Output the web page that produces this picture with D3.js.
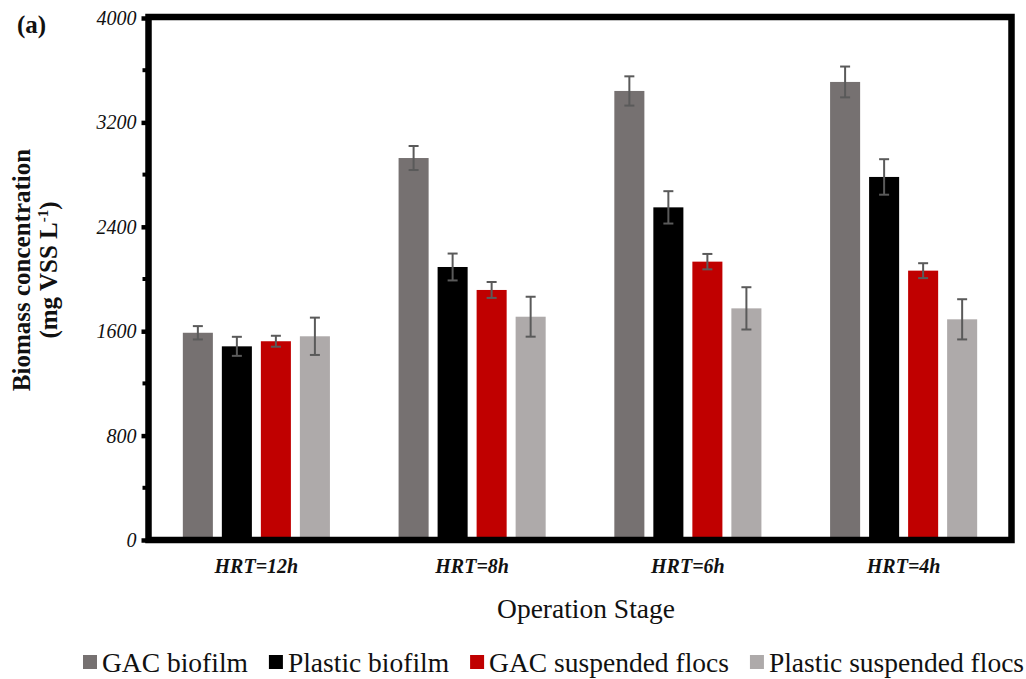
<!DOCTYPE html>
<html>
<head>
<meta charset="utf-8">
<script src="https://cdn.jsdelivr.net/npm/d3@7"></script>
<style>
  body { margin: 0; background: #fff; }
  svg { display: block; }
  text { font-family: "Liberation Serif", "Times New Roman", serif; fill: #111; }
</style>
</head>
<body>
<svg id="chart" width="1026" height="679"></svg>
<script>
// ── Data ──────────────────────────────────────────────────────────────────────
const stages = ["HRT=12h", "HRT=8h", "HRT=6h", "HRT=4h"];
const series = ["GAC biofilm", "Plastic biofilm", "GAC suspended flocs", "Plastic suspended flocs"];
const colors = ["#767171", "#000000", "#c00000", "#aeaaaa"];

const gacBiofilm     = [1588, 2927, 3441, 3510];
const plasticBiofilm = [1484, 2092, 2549, 2782];
const gacFlocs       = [1523, 1916, 2133, 2064];
const plasticFlocs   = [1561, 1711, 1775, 1691];

const gacBiofilmErr     = [51, 92, 112, 118];
const plasticBiofilmErr = [73, 103, 124, 136];
const gacFlocsErr       = [42, 61, 59, 57];
const plasticFlocsErr   = [143, 153, 162, 154];

const yTicks = [0, 800, 1600, 2400, 3200, 4000];
const yMinorTicks = [400, 1200, 2000, 2800, 3600];

const values = [gacBiofilm, plasticBiofilm, gacFlocs, plasticFlocs];
const errors = [gacBiofilmErr, plasticBiofilmErr, gacFlocsErr, plasticFlocsErr];

// ── Layout ────────────────────────────────────────────────────────────────────
const svg = d3.select("#chart");
const plotL = 148.5, plotR = 1011.5, plotT = 17, plotB = 540;

const x0 = d3.scaleBand().domain(stages).range([plotL, plotR]).padding(0);
const x1 = d3.scaleBand().domain(series).range([0, x0.bandwidth()])
  .paddingInner(0.23).paddingOuter(0.88);
const y = d3.scaleLinear().domain([0, 4000]).range([plotB, plotT + 1]);

const rows = [];
stages.forEach((s, i) => {
  series.forEach((k, j) => {
    rows.push({ stage: s, key: k, color: colors[j], v: values[j][i], e: errors[j][i] });
  });
});

// Bars
svg.append("g").selectAll("rect")
  .data(rows)
  .join("rect")
  .attr("x", (d) => x0(d.stage) + x1(d.key))
  .attr("width", x1.bandwidth())
  .attr("y", (d) => y(d.v))
  .attr("height", (d) => y(0) - y(d.v))
  .attr("fill", (d) => d.color);

// Error bars
const err = svg.append("g").attr("stroke", "#5a5a5a").attr("stroke-width", 2);
rows.forEach((d) => {
  const cx = x0(d.stage) + x1(d.key) + x1.bandwidth() / 2;
  err.append("line").attr("x1", cx).attr("x2", cx)
    .attr("y1", y(d.v + d.e)).attr("y2", y(d.v - d.e));
  [d.v + d.e, d.v - d.e].forEach((v) => {
    err.append("line").attr("x1", cx - 5).attr("x2", cx + 5)
      .attr("y1", y(v)).attr("y2", y(v));
  });
});

// Frame
svg.append("rect")
  .attr("x", plotL).attr("y", plotT)
  .attr("width", plotR - plotL).attr("height", plotB - plotT)
  .attr("fill", "none").attr("stroke", "#000").attr("stroke-width", 6.5);

// Y axis
const yAxis = svg.append("g").attr("transform", `translate(${plotL},0)`)
  .call(d3.axisLeft(y).tickValues(yTicks).tickSize(7).tickPadding(5).tickFormat(d3.format("d")));
yAxis.select(".domain").remove();
yAxis.selectAll(".tick line").attr("stroke", "#000").attr("stroke-width", 4.5);
yAxis.selectAll(".tick text")
  .attr("font-family", "Liberation Serif, serif")
  .attr("font-style", "italic")
  .attr("font-size", 20)
  .attr("fill", "#111");

svg.append("g").selectAll("line")
  .data(yMinorTicks)
  .join("line")
  .attr("x1", plotL - 6).attr("x2", plotL)
  .attr("y1", (d) => y(d)).attr("y2", (d) => y(d))
  .attr("stroke", "#000").attr("stroke-width", 4);

// X labels
svg.append("g").selectAll("text")
  .data(stages)
  .join("text")
  .attr("x", (d) => x0(d) + x0.bandwidth() / 2)
  .attr("y", 573)
  .attr("text-anchor", "middle")
  .attr("font-style", "italic")
  .attr("font-weight", "bold")
  .attr("font-size", 20)
  .text((d) => d);

// Axis titles
svg.append("text")
  .attr("x", 586).attr("y", 618)
  .attr("text-anchor", "middle")
  .attr("font-size", 27.5)
  .text("Operation Stage");

const yt = svg.append("g").attr("transform", "translate(30,270) rotate(-90)");
yt.append("text").attr("text-anchor", "middle").attr("font-weight", "bold")
  .attr("font-size", 25).text("Biomass concentration");
const yt2 = yt.append("text").attr("y", 27).attr("text-anchor", "middle")
  .attr("font-weight", "bold").attr("font-size", 25);
yt2.append("tspan").text("(mg VSS L");
yt2.append("tspan").attr("font-size", 15).attr("dy", -9).text("-1");
yt2.append("tspan").attr("dy", 9).text(")");

svg.append("text")
  .attr("x", 17).attr("y", 33)
  .attr("font-weight", "bold")
  .attr("font-size", 25)
  .text("(a)");

// Legend
const legend = svg.append("g").attr("transform", "translate(83,0)");
let lx = 0;
series.forEach((s, i) => {
  legend.append("rect")
    .attr("x", lx).attr("y", 655)
    .attr("width", 14).attr("height", 14)
    .attr("fill", colors[i]);
  const t = legend.append("text")
    .attr("x", lx + 19).attr("y", 672)
    .attr("font-size", 27.5)
    .text(s);
  lx += 19 + t.node().getComputedTextLength() + 21;
});
</script>
</body>
</html>
